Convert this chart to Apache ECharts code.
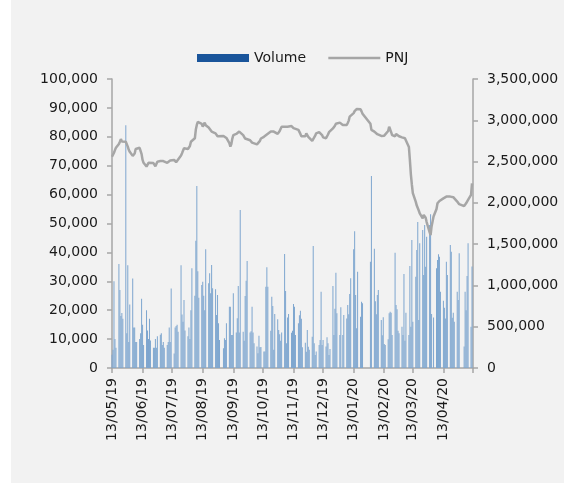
<!doctype html>
<html>
<head>
<meta charset="utf-8">
<title>Price movement</title>
<script src="https://cdn.jsdelivr.net/npm/echarts@6/dist/echarts.min.js"></script>
<style>
    html,body{margin:0;padding:0;background:#fff;}
    #wrap{position:absolute;left:11px;top:0;width:553px;height:483px;background:#f2f2f2;}
    #chart{position:absolute;left:0;top:0;width:564px;height:483px;}
</style>
</head>
<body>
<div id="wrap"></div>
<div id="chart"></div>
<script>
// calendar range of the date axis and market holidays
var axisStart = [2019, 4, 13];
var axisEnd = [2020, 4, 13];
var lastSession = '2020-05-12';
var holidays = ['2019-09-02','2020-01-01','2020-01-23','2020-01-24','2020-01-27','2020-01-28','2020-01-29','2020-04-02','2020-04-30','2020-05-01'];

// PNJ close price, one value per session (left axis)
var pnj = [
73100,73500,74500,75400,76200, 77500,78300,79200,78400,77800, 78300,78000,76600,75500,74800,
73400,73100,74200,75800,76000, 76200,76000,74000,72000,71000, 69700,70200,71000,71400,71200,
70900,70400,69800,70600,71400, 71600,71800,72000,71600,71400, 71000,71200,71500,71800,72000,
72000,71600,71200,70800,71600, 73500,74300,75200,76000,76500, 75800,75400,76800,78300,78600,
79500,82500,84100,85200,84700, 84500,83500,84200,84900,84000, 83200,83500,82600,81800,82000,
81200,80600,80200,80000,80400, 80300,80000,80600,79600,
77800,76600,77500,79400,80600, 81000,80800,81500,81800,81200, 80600,80000,79400,78900,79200,
78800,78300,78000,78300,77800, 77400,77200,78000,78600,79400, 80000,80300,80000,80800,81400,
81800,81600,81200,81800,81400, 81000,81400,82000,82800,83500, 83500,83200,83700,83500,83900,
83700,83400,83000,82600,82400, 82400,81800,81000,80200,79800, 80200,81200,80800,80000,79600,
78600,78300,79200,80400,81200, 81600,82100,81800,80600,79800, 79500,79600,80800,81600,82200,
82900,83200,83800,84500,84900, 84900,84400,84100,84600,
84100,84800,85600,87000,87600, 88200,88900,89300,89600,89900, 89500,88800,88000, 84500,82400,
81800,81400,81800,80900,80600, 80300,80000,79900,80400,81000, 82000,83500,82600,81600,80600,
80200,81000,81400,81000,80200, 79800,79600,79800,79500,79500, 76500,72000,67000,63500,60500,
57500,56200,55800,54500,53500, 51800,53000,53500,52000,50500, 47000,46000,49000,52400,
55000,57000,57500,57800,58200, 58700,58400,59000,59300,59600, 59300,59800,59500,59100,58800,
57600,57000,56700, 56000,56400,57000,57500,58200, 59900,63900
];

// traded volume, one value per session (right axis)
var volume = [
160000,220000,1050000,350000,245000, 1260000,945000,630000,665000,595000, 2940000,420000,1243000,315000,770000,
1085000,490000,490000,315000,315000, 350000,420000,840000,525000,280000, 700000,455000,350000,595000,333000,
245000,245000,350000,245000,385000, 403000,420000,280000,315000,245000, 280000,315000,490000,315000,963000,
175000,490000,508000,525000,438000, 1243000,648000,560000,823000,455000, 385000,490000,350000,700000,1208000,
875000,1540000,2205000,1173000,850000, 1005000,1045000,876000,700000,1437000, 1025000,1146000,904000,1247000,965000,
953000,642000,884000,541000,339000, 240000,359000,339000,541000,
743000,743000,400000,400000,904000, 430000,601000,993000,430000,1913000, 440000,330000,872000,1058000,1296000,
430000,445000,743000,430000,300000, 260000,178000,392000,250000,255000, 200000,200000,985000,1219000,985000,
450000,864000,751000,220000,654000, 589000,460000,410000,330000,430000, 1381000,933000,300000,612000,653000,
427000,452000,775000,742000,400000, 541000,638000,694000,597000,250000, 307000,198000,460000,258000,220000,
379000,1477000,300000,157000,200000, 280000,339000,924000,280000,339000, 260000,371000,300000,157000,230000,
993000,400000,718000,1155000,662000, 400000,735000,400000,642000,
600000,763000,650000,896000,1086000, 1437000,1655000,884000,480000,1167000, 622000,803000,783000, 1288000,2325000,
1445000,807000,650000,884000,945000, 581000,396000,614000,291000,280000, 347000,662000,682000,670000,400000,
1397000,763000,710000,452000,420000, 500000,400000,1138000,330000,670000, 400000,1235000,500000,1550000,561000,
1106000,1429000,1768000,581000,1510000, 1671000,1126000,1732000,1227000,1591000, 1732000,1861000,654000,612000,
1207000,1308000,1377000,1348000,924000, 815000,731000,600000,1288000,1126000, 1490000,1409000,610000,668000,560000,
924000,823000,1389000, 260000,924000,700000,1114000,1510000, 500000,1230000
];

function pad(n){ return (n < 10 ? '0' : '') + n; }
function iso(d){ return d.getFullYear() + '-' + pad(d.getMonth() + 1) + '-' + pad(d.getDate()); }
function dmy(d){ return pad(d.getDate()) + '/' + pad(d.getMonth() + 1) + '/' + String(d.getFullYear()).slice(2); }

// date axis: one category per calendar day; sessions are weekdays that are not holidays
var days = [], volData = [], pnjData = [];
var k = 0;
var d = new Date(axisStart[0], axisStart[1], axisStart[2]);
var end = new Date(axisEnd[0], axisEnd[1], axisEnd[2]);
while (d <= end) {
    days.push(dmy(d));
    var wd = d.getDay();
    var isSession = wd != 0 && wd != 6 && holidays.indexOf(iso(d)) < 0 && iso(d) <= lastSession;
    if (isSession) {
        volData.push(volume[k]);
        pnjData.push(pnj[k]);
        k++;
    } else {
        volData.push(null);
        pnjData.push(null);
    }
    d = new Date(d.getFullYear(), d.getMonth(), d.getDate() + 1);
}
var lastIdx = days.length - 1;
function isMonthTick(idx, val) { return val.indexOf('13/') === 0; }

var font = 'DejaVu Sans';
var axisGray = '#a6a6a6';

var myChart = echarts.init(document.getElementById('chart'));
var option = {
    animation: false,
    textStyle: {fontFamily: font},
    title: {
        text: 'Price movement',
        left: 22,
        top: -20,
        textStyle: {fontFamily: font, fontSize: 20, fontWeight: 'bold', color: '#1a1a1a'}
    },
    legend: {
        left: 192,
        top: 46,
        itemWidth: 52,
        itemHeight: 8,
        itemGap: 21,
        textStyle: {fontFamily: font, fontSize: 14, color: '#1a1a1a'},
        data: [
            {name: 'Volume', icon: 'rect', itemStyle: {color: '#1a559b'}},
            {name: 'PNJ', itemStyle: {opacity: 0}, lineStyle: {color: '#a6a6a6', width: 2.5}}
        ]
    },
    grid: {left: 112, right: 91, top: 79, bottom: 115},
    xAxis: {
        type: 'category',
        boundaryGap: false,
        data: days,
        axisLine: {lineStyle: {color: axisGray, width: 1.5}},
        axisTick: {
            show: true, length: 5,
            lineStyle: {color: axisGray, width: 1.5},
            interval: isMonthTick
        },
        axisLabel: {
            rotate: 90,
            margin: 10,
            fontFamily: font, fontSize: 14, color: '#1a1a1a',
            interval: function (idx, val) { return isMonthTick(idx, val) && idx < lastIdx; }
        },
        splitLine: {show: false}
    },
    yAxis: [
        {
            type: 'value',
            position: 'left',
            min: 0, max: 100000, interval: 10000,
            axisLine: {show: true, lineStyle: {color: axisGray, width: 1.5}},
            axisTick: {show: true, length: 5, lineStyle: {color: axisGray, width: 1.5}},
            axisLabel: {
                margin: 14, fontFamily: font, fontSize: 14, color: '#1a1a1a',
                formatter: function (v) { return v.toLocaleString('en-US'); }
            },
            splitLine: {show: false}
        },
        {
            type: 'value',
            position: 'right',
            min: 0, max: 3500000, interval: 500000,
            axisLine: {show: true, lineStyle: {color: axisGray, width: 1.5}},
            axisTick: {show: true, length: 5, lineStyle: {color: axisGray, width: 1.5}},
            axisLabel: {
                margin: 14, fontFamily: font, fontSize: 14, color: '#1a1a1a',
                formatter: function (v) { return v.toLocaleString('en-US'); }
            },
            splitLine: {show: false}
        }
    ],
    series: [
        {
            name: 'Volume',
            type: 'bar',
            yAxisIndex: 1,
            barWidth: 0.5,
            itemStyle: {color: '#7ea6cf'},
            data: volData
        },
        {
            name: 'PNJ',
            type: 'line',
            yAxisIndex: 0,
            symbol: 'none',
            connectNulls: true,
            lineStyle: {color: '#a6a6a6', width: 2.5},
            itemStyle: {color: '#a6a6a6'},
            data: pnjData
        }
    ]
};
myChart.setOption(option);
</script>
</body>
</html>
